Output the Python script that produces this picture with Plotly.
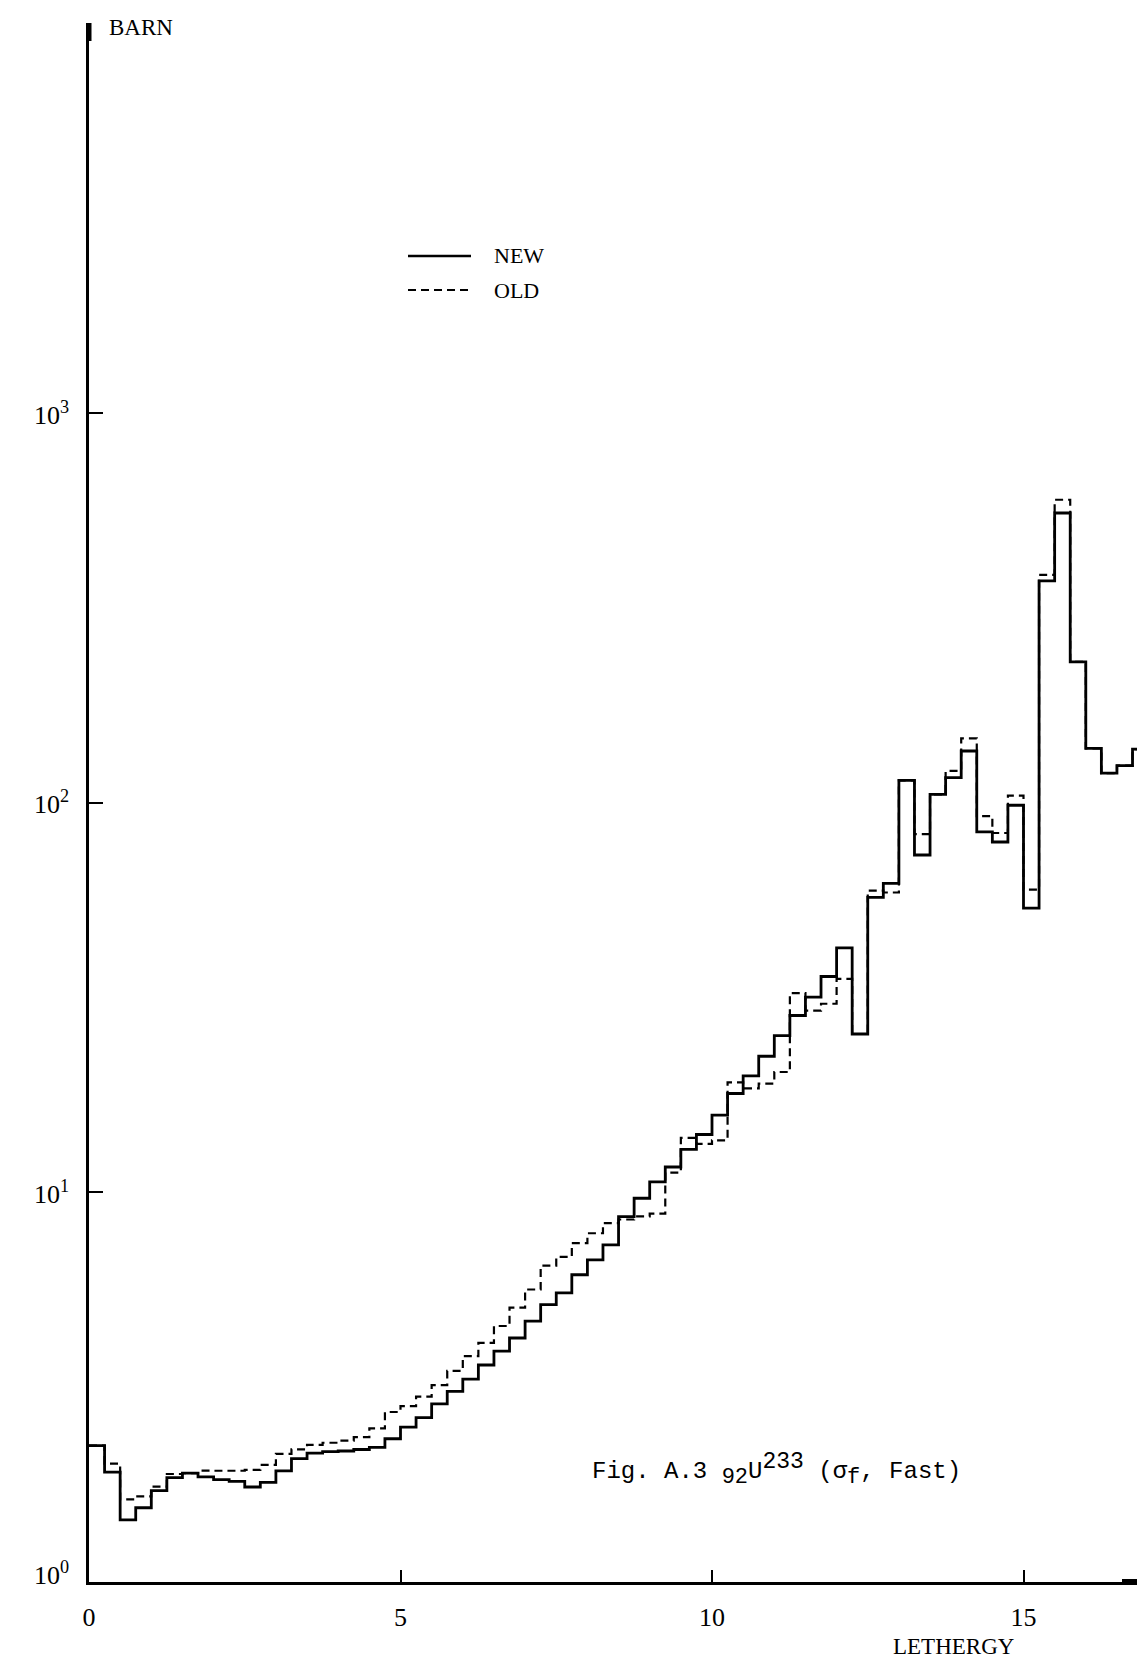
import plotly.graph_objects as go

# ---- data ----
n_groups = 68
bin_width = 0.25
lethargy_edges = [bin_width * k for k in range(n_groups + 1)]  # 0 ... 17

sigma_new = [
    2.24, 1.915, 1.443, 1.551, 1.717, 1.854, 1.902, 1.862, 1.832, 1.812,
    1.753, 1.801, 1.928, 2.073, 2.141, 2.160, 2.169, 2.188, 2.216, 2.332,
    2.497, 2.641, 2.864, 3.085, 3.317, 3.606, 3.913, 4.230, 4.671, 5.151,
    5.524, 6.146, 6.709, 7.337, 8.661, 9.660, 10.646, 11.62, 12.90, 14.08,
    15.78, 17.94, 19.92, 22.36, 25.26, 28.45, 31.71, 35.82, 42.43, 25.50,
    57.20, 62.10, 114.2, 73.45, 105.1, 116.0, 135.8, 84.23, 79.31, 98.55,
    53.67, 371.1, 554.4, 230.1, 137.9, 119.1, 124.5, 137.4,
]

sigma_old = [
    2.24, 2.014, 1.630, 1.659, 1.757, 1.893, 1.902, 1.931, 1.930, 1.930,
    1.939, 1.997, 2.133, 2.190, 2.248, 2.277, 2.305, 2.353, 2.479, 2.731,
    2.827, 2.991, 3.203, 3.482, 3.800, 4.108, 4.540, 5.059, 5.634, 6.485,
    6.828, 7.410, 7.856, 8.340, 8.519, 8.678, 8.818, 11.24, 13.80, 13.32,
    13.60, 19.17, 18.50, 19.02, 20.37, 32.48, 29.28, 30.49, 35.34, 25.50,
    59.52, 58.85, 114.2, 83.06, 105.1, 120.7, 146.4, 92.44, 83.65, 104.3,
    59.87, 384.7, 599.5, 230.1, 137.9, 119.1, 124.5, 137.4,
]

x_tick_vals = [0, 5, 10, 15]
y_decades = [0, 1, 2, 3]

# ---- figure ----
W, H = 1145, 1658
ml, mr, mt, mb = 81, 3, 15, 84
plot_w = W - ml - mr
plot_h = H - mt - mb
px_per_unit = 62.3
px_per_decade = 389.6
x_max = plot_w / px_per_unit
y_max_log = plot_h / px_per_decade

serif = "Liberation Serif, Times New Roman, serif"
mono = "Liberation Mono, Courier New, monospace"

fig = go.Figure()
fig.add_trace(go.Scatter(
    x=lethargy_edges, y=sigma_old + [sigma_old[-1]],
    mode="lines", line=dict(shape="hv", color="black", width=2.2, dash="8px,5px"),
    name="OLD", showlegend=False, hoverinfo="skip",
))
fig.add_trace(go.Scatter(
    x=lethargy_edges, y=sigma_new + [sigma_new[-1]],
    mode="lines", line=dict(shape="hv", color="black", width=2.8),
    name="NEW", showlegend=False, hoverinfo="skip",
))


def px_to_paper_x(px):
    return (px - ml) / plot_w


def px_to_paper_y(py):
    return (H - mb - py) / plot_h


annotations = []
# y tick labels
for d in y_decades:
    annotations.append(dict(
        x=0, xref="paper", y=d, yref="y", xanchor="right", yanchor="middle",
        xshift=-18, yshift=(9 if d == 0 else 0), showarrow=False,
        text=f"10<sup>{d}</sup>", font=dict(family=serif, size=26, color="black"),
    ))
# axis names
annotations.append(dict(
    x=px_to_paper_x(99), y=px_to_paper_y(20), xref="paper", yref="paper",
    xanchor="left", yanchor="middle", showarrow=False, text="BARN",
    font=dict(family=serif, size=23, color="black"),
))
annotations.append(dict(
    x=px_to_paper_x(946), y=px_to_paper_y(1638), xref="paper", yref="paper",
    xanchor="center", yanchor="middle", showarrow=False, text="LETHERGY",
    font=dict(family=serif, size=23, color="black"),
))
# legend texts
annotations.append(dict(
    x=px_to_paper_x(484), y=px_to_paper_y(248), xref="paper", yref="paper",
    xanchor="left", yanchor="middle", showarrow=False, text="NEW",
    font=dict(family=serif, size=22, color="black"),
))
annotations.append(dict(
    x=px_to_paper_x(484), y=px_to_paper_y(282), xref="paper", yref="paper",
    xanchor="left", yanchor="middle", showarrow=False, text="OLD",
    font=dict(family=serif, size=22, color="black"),
))
# figure caption
annotations.append(dict(
    x=px_to_paper_x(582), y=px_to_paper_y(1461), xref="paper", yref="paper",
    xanchor="left", yanchor="middle", showarrow=False,
    text=("Fig. A.3 <sub><span style='font-size:22px'>92</span></sub>U"
          "<sup><span style='font-size:23px'>233</span></sup> "
          "(σ<sub><span style='font-size:22px'>f</span></sub>, Fast)"),
    font=dict(family=mono, size=24, color="black"),
))

shapes = [
    dict(type="line", xref="paper", yref="paper",
         x0=px_to_paper_x(400), x1=px_to_paper_x(463),
         y0=px_to_paper_y(248), y1=px_to_paper_y(248),
         line=dict(color="black", width=2.6)),
    dict(type="line", xref="paper", yref="paper",
         x0=px_to_paper_x(400), x1=px_to_paper_x(463),
         y0=px_to_paper_y(282), y1=px_to_paper_y(282),
         line=dict(color="black", width=2.2, dash="8px,5px")),
    # thick tip at the top of the y axis
    dict(type="line", xref="paper", yref="paper",
         x0=0, x1=0, y0=px_to_paper_y(33), y1=1,
         line=dict(color="black", width=5)),
    # thick arrow tip at the right end of the x axis
    dict(type="line", xref="paper", yref="paper",
         x0=px_to_paper_x(1114), x1=1,
         y0=0, y1=0,
         line=dict(color="black", width=6)),
]

fig.update_layout(
    width=W, height=H,
    margin=dict(l=ml, r=mr, t=mt, b=mb),
    paper_bgcolor="white", plot_bgcolor="white",
    showlegend=False,
    annotations=annotations,
    shapes=shapes,
    xaxis=dict(
        range=[0, x_max], showgrid=False, zeroline=False,
        showline=True, linecolor="black", linewidth=3,
        tickmode="array", tickvals=x_tick_vals, ticktext=[str(v) for v in x_tick_vals],
        ticks="inside", ticklen=12, tickwidth=1.5, tickcolor="black",
        tickfont=dict(family=serif, size=26, color="black"),
        ticklabelstandoff=10,
    ),
    yaxis=dict(
        type="log", range=[0, y_max_log], showgrid=False, zeroline=False,
        showline=True, linecolor="black", linewidth=2.5,
        showticklabels=False,
        tickmode="array", tickvals=[10 ** d for d in y_decades],
        ticks="inside", ticklen=14, tickwidth=1.5, tickcolor="black",
    ),
)

fig.write_html("out.html")
